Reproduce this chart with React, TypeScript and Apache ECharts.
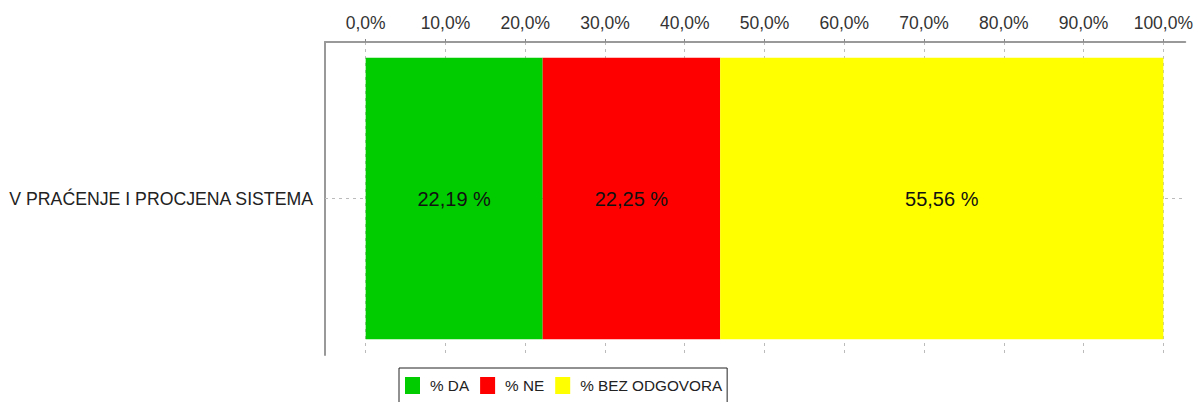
import React, { useEffect, useRef } from "react";
import * as echarts from "echarts";

const categories = ["V PRAĆENJE I PROCJENA SISTEMA"];
const seriesNames = ["% DA", "% NE", "% BEZ ODGOVORA"];
const seriesColors = ["#00cc00", "#ff0000", "#ffff00"];
const valuesDa = [22.19];
const valuesNe = [22.25];
const valuesBez = [55.56];
const tickValues = [0, 10, 20, 30, 40, 50, 60, 70, 80, 90, 100];

const FONT = "Liberation Sans, Arial, sans-serif";
const fmtPct = (v: number) => v.toFixed(1).replace(".", ",") + "%";
const fmtLabel = (v: number) => v.toFixed(2).replace(".", ",") + " %";

export default function App() {
  const ref = useRef<HTMLDivElement>(null);
  useEffect(() => {
    document.body.style.margin = "0";
    const chart = echarts.init(ref.current!, null, { renderer: "svg" });
    const allValues = [valuesDa, valuesNe, valuesBez];
    const bars = allValues.map((vals, i) => ({
      name: seriesNames[i],
      type: "bar",
      stack: "total",
      data: vals,
      barWidth: "90%",
      z: 5,
      itemStyle: { color: seriesColors[i] },
      label: {
        show: true,
        position: "inside",
        formatter: (p: any) => fmtLabel(p.value),
        color: "#111",
        fontSize: 20,
        fontFamily: FONT,
      },
    }));
    chart.setOption({
      animation: false,
      grid: { left: 325, right: 0, top: 42, bottom: 47, containLabel: false },
      legend: {
        left: 399,
        top: 368,
        data: seriesNames,
        icon: "rect",
        itemWidth: 15,
        itemHeight: 17,
        itemGap: 11,
        borderColor: "#222",
        borderWidth: 1,
        borderRadius: 0,
        padding: [9, 5, 9, 6],
        textStyle: { fontSize: 15.3, color: "#222", fontFamily: FONT, padding: [0, 0, 0, 5] },
      },
      xAxis: {
        type: "value",
        position: "top",
        min: -5.1,
        max: 102.75,
        axisLine: { show: true, lineStyle: { color: "#999", width: 2 } },
        axisTick: {
          show: true,
          customValues: tickValues,
          length: 3,
          lineStyle: { color: "#888" },
        },
        axisLabel: {
          customValues: tickValues,
          formatter: (v: number) => fmtPct(v),
          fontSize: 17.5,
          color: "#333",
          margin: 10,
          fontFamily: FONT,
        },
        splitLine: { show: true, lineStyle: { color: "#bbb", type: [3, 4] } },
      },
      yAxis: {
        type: "category",
        data: categories,
        axisLine: { show: true, onZero: false, lineStyle: { color: "#999", width: 2 } },
        axisTick: { show: false },
        axisLabel: {
          fontSize: 17.7,
          color: "#222",
          margin: 12,
          fontFamily: FONT,
        },
      },
      series: [
        {
          name: "guide",
          type: "line",
          data: [],
          z: 1,
          silent: true,
          markLine: {
            silent: true,
            z: 1,
            symbol: ["none", "none"],
            label: { show: false },
            lineStyle: { color: "#bbb", type: [3, 4], width: 1 },
            data: [{ yAxis: categories[0] }],
          },
        },
        ...bars,
      ],
    });
    return () => chart.dispose();
  }, []);
  return <div ref={ref} style={{ width: 1196, height: 402, position: "absolute", left: 0, top: 0 }} />;
}
